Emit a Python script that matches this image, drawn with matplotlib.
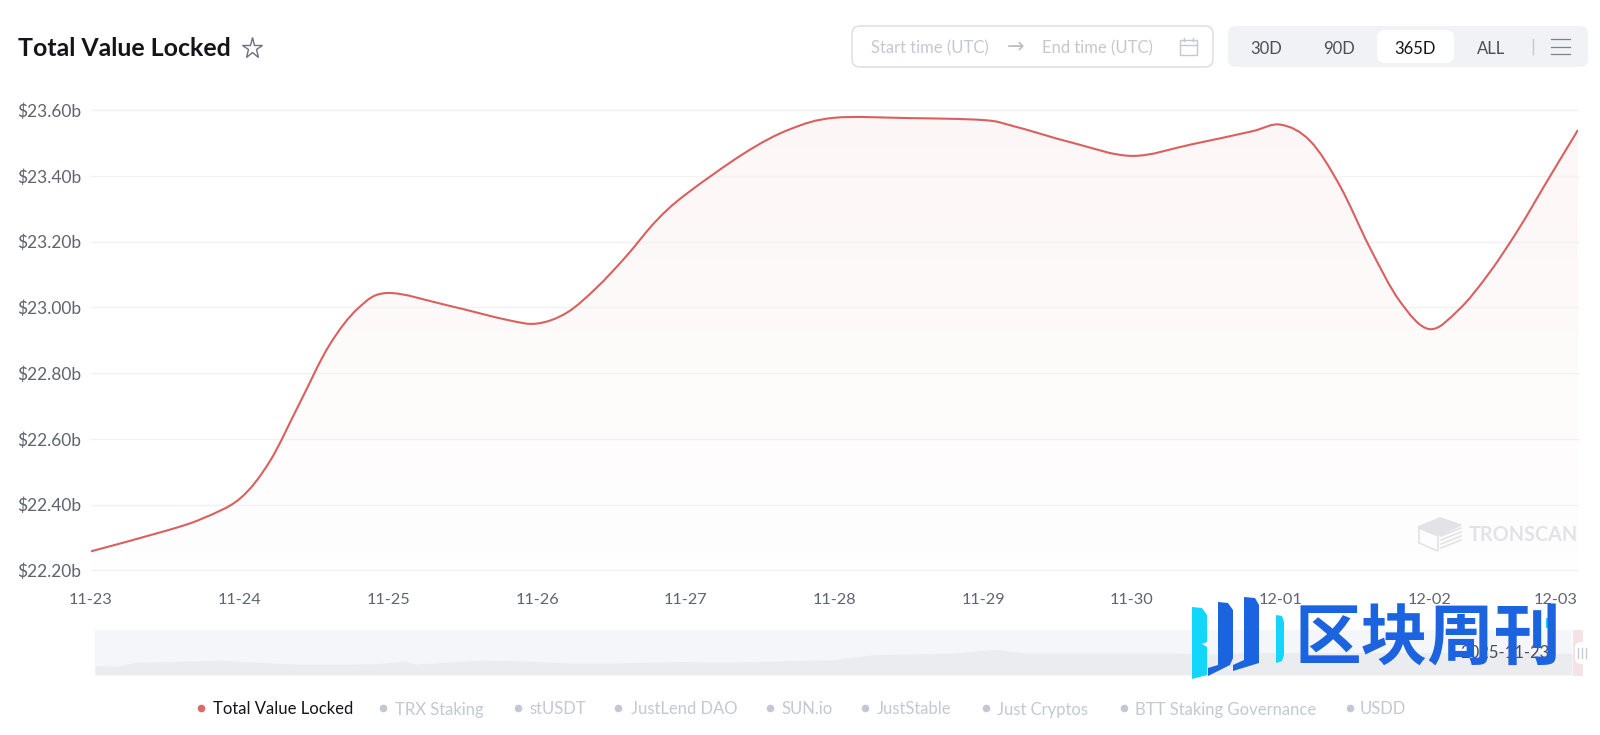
import matplotlib
matplotlib.use('Agg')
import matplotlib.pyplot as plt
import numpy as np
from matplotlib.patches import FancyBboxPatch, PathPatch, Polygon, Rectangle
from matplotlib.path import Path

plt.rcParams['font.family'] = ['Lato', 'Noto Sans CJK SC', 'DejaVu Sans']

# days since 11-23 and TVL in billions
days = [0, 0.5, 0.75, 1.0, 1.2, 1.4, 1.6, 1.8, 2.0,
        2.4, 2.8, 3.0, 3.2, 3.4, 3.6, 3.8, 4.0,
        4.4, 4.7, 5.0, 5.5, 6.0, 6.2, 6.6, 7.0,
        7.4, 7.8, 8.0, 8.2, 8.4, 8.6, 8.8, 9.0,
        9.2, 9.4, 9.6, 9.8, 10.0]
tvl = [22.258, 22.320, 22.358, 22.418, 22.530, 22.706, 22.883, 22.999, 23.044,
       23.006, 22.962, 22.951, 22.984, 23.060, 23.156, 23.263, 23.344,
       23.471, 23.542, 23.577, 23.576, 23.570, 23.552, 23.501, 23.461,
       23.496, 23.535, 23.556, 23.506, 23.369, 23.182, 23.020, 22.934,
       22.994, 23.103, 23.238, 23.390, 23.540]
x_labels = ['11-23', '11-24', '11-25', '11-26', '11-27', '11-28', '11-29', '11-30',
            '12-01', '12-02', '12-03']
y_ticks = [22.2, 22.4, 22.6, 22.8, 23.0, 23.2, 23.4, 23.6]

# overview strip under the chart: position in percent, height as a share of the strip
mini_pos = [0, 1.4, 2.7, 5.1, 8.5, 11.2, 13.9, 16.6, 19, 21, 21.7, 24, 26.1, 29.5, 31.8,
            35.5, 39.6, 42.5, 49.9, 52.7, 58.1, 60.9, 63, 66.3, 70.4, 72.9, 74.8, 78.2,
            90.6, 100]
mini_val = [.21, .19, .28, .30, .33, .28, .24, .24, .25, .31, .24, .29, .33, .31, .27,
            .27, .30, .285, .34, .45, .49, .57, .49, .49, .49, .49, .46, .50, .50, .48]

legend_names = ['Total Value Locked', 'TRX Staking', 'stUSDT', 'JustLend DAO', 'SUN.io',
                'JustStable', 'Just Cryptos', 'BTT Staking Governance', 'USDD']
legend_dot_x = [201, 383, 518, 618, 770, 865, 986, 1124, 1350]
legend_text_x = [213, 395, 529, 631, 781, 877, 997, 1135, 1360]

W, H = 1600, 735
fig = plt.figure(figsize=(16, 7.35), dpi=100, facecolor='white')


def px_axes(left, top, right, bottom, **kw):
    return fig.add_axes([left / W, 1 - bottom / H, (right - left) / W, (bottom - top) / H], **kw)


def smooth_verts(xs, ys):
    # curve through the read values, the same kind of smoothing the chart has
    p = np.column_stack([xs, ys])
    q = np.vstack([p[0], p, p[-1]])
    verts = [p[0]]
    for i in range(len(p) - 1):
        verts.append(q[i + 1] + (q[i + 2] - q[i]) / 6)
        verts.append(q[i + 2] - (q[i + 3] - q[i + 1]) / 6)
        verts.append(q[i + 2])
    return verts


# main chart
ax = px_axes(91, 110.2, 1578, 570.4)
verts = smooth_verts(days, tvl)
line_path = Path(verts, [Path.MOVETO] + [Path.CURVE4] * (len(verts) - 1))
area_path = Path(verts + [(days[-1], 22.2), (days[0], 22.2), verts[0]],
                 [Path.MOVETO] + [Path.CURVE4] * (len(verts) - 1) + [Path.LINETO, Path.LINETO, Path.CLOSEPOLY])
grad = np.zeros((256, 1, 4))
grad[:, :, 0] = 217 / 255
grad[:, :, 1] = 90 / 255
grad[:, :, 2] = 90 / 255
grad[:, 0, 3] = np.linspace(0.055, 0.006, 256)
im = ax.imshow(grad, extent=(0, 10, 22.2, 23.6), origin='upper', aspect='auto', zorder=1)
im.set_clip_path(area_path, transform=ax.transData)
for t in y_ticks:
    ax.axhline(t, color='#f2f2f4', lw=1, zorder=2, clip_on=False)
ax.add_patch(PathPatch(line_path, fc='none', ec='#d9605f', lw=1.5, zorder=3))
ax.set_xlim(0, 10)
ax.set_ylim(22.2, 23.6)
ax.set_xticks(range(11))
ax.set_xticklabels(x_labels)
ax.get_xticklabels()[-1].set_ha('right')
ax.set_yticks(y_ticks)
ax.set_yticklabels(['$%.2fb' % t for t in y_ticks])
ax.tick_params(length=0, labelcolor='#5f6470')
ax.tick_params(axis='x', pad=16.5, labelsize=11.7)
ax.tick_params(axis='y', pad=7, labelsize=12.5)
for s in ax.spines.values():
    s.set_visible(False)
ax.patch.set_alpha(0)

# overview strip
mini = px_axes(95, 630, 1572, 675)
mini.set_facecolor('#f5f6fa')
mini.fill_between(mini_pos, mini_val, 0, color='#ebecf0', lw=0)
mini.set_xlim(0, 100)
mini.set_ylim(0, 1)
mini.set_xticks([])
mini.set_yticks([])
for s in mini.spines.values():
    s.set_visible(False)

# everything else is page furniture, placed in pixels
ui = fig.add_axes([0, 0, 1, 1], zorder=5)
ui.set_xlim(0, W)
ui.set_ylim(H, 0)
ui.axis('off')

ui.text(18.5, 48, 'Total Value Locked', fontsize=17.9, fontweight='bold', color='#14151a', va='center')
ui.plot([252], [48], marker='*', ms=15.5, mfc='white', mec='#6d7280', mew=1)

ui.add_patch(FancyBboxPatch((852, 26), 361, 41, boxstyle='round,pad=0,rounding_size=8',
                            fc='white', ec='#d5d8e0', lw=0.9))
ui.text(930, 48.5, 'Start time (UTC)', fontsize=12, color='#c3c8d3', ha='center', va='center')
ui.text(1016, 47, '→', fontsize=15, color='#b9bec9', ha='center', va='center',
        family=['DejaVu Sans'])
ui.text(1097, 48.5, 'End time (UTC)', fontsize=12, color='#c3c8d3', ha='center', va='center')
ui.add_patch(Rectangle((1180, 40), 17, 15, fc='none', ec='#c3c8d3', lw=1))
ui.plot([1180, 1197], [45, 45], color='#c3c8d3', lw=1)
ui.plot([1184, 1184], [38, 41], color='#c3c8d3', lw=1)
ui.plot([1193, 1193], [38, 41], color='#c3c8d3', lw=1)

ui.add_patch(FancyBboxPatch((1228, 26), 360, 41, boxstyle='round,pad=0,rounding_size=8',
                            fc='#f1f2f6', ec='none'))
ui.add_patch(FancyBboxPatch((1377, 30), 77, 33, boxstyle='round,pad=0,rounding_size=8',
                            fc='white', ec='none'))
for label, cx, col in [('30D', 1266, '#4a4e57'), ('90D', 1339, '#4a4e57'),
                       ('365D', 1415, '#14151a'), ('ALL', 1491, '#4a4e57')]:
    ui.text(cx, 48.5, label, fontsize=12, color=col, ha='center', va='center')
ui.plot([1533, 1533], [39, 54], color='#c3c8d3', lw=1)
for yy in [39, 47, 54]:
    ui.plot([1551, 1570], [yy, yy], color='#7d818c', lw=0.9)

# watermark
for poly, col in [([(1418, 527), (1440, 518), (1461, 525), (1440, 535)], '#e2e3e7'),
                  ([(1419, 528), (1438, 536), (1438, 551), (1419, 543)], 'none')]:
    ui.add_patch(Polygon(poly, fc=col, ec='#e2e3e7', lw=1.2))
for k in range(4):
    ui.plot([1441, 1461], [536 + k * 4, 528 + k * 4], color='#e2e3e7', lw=1.2)
ui.text(1578, 535, 'TRONSCAN', fontsize=14.3, fontweight='bold', color='#e2e3e7', ha='right', va='center')

# strip handle and date
ui.add_patch(Rectangle((1573, 630), 10, 46, fc='#f4e2e4', ec='none'))
ui.add_patch(FancyBboxPatch((1575, 642), 14, 22, boxstyle='round,pad=0,rounding_size=6',
                            fc='white', ec='none'))
for xx in [1578, 1582, 1586]:
    ui.plot([xx, xx], [648, 658], color='#c9ccd4', lw=1)
ui.text(1505, 653, '2025-11-23', fontsize=12, color='#4a4e57', ha='center', va='center')

# legend
for i, name in enumerate(legend_names):
    on = i == 0
    ui.plot([legend_dot_x[i]], [708], marker='o', ms=5.5, mec='none',
            mfc='#d96b6b' if on else '#c3c8d3')
    ui.text(legend_text_x[i], 709.5, name, fontsize=11.95, va='center',
            color='#14151a' if on else '#c3c8d3')

# site logo stamped over the corner
cyan = '#12d6fb'
blue = '#1c63e0'
ui.add_patch(Polygon([(1192, 607), (1202, 608), (1207, 615), (1207, 642), (1202, 644), (1207, 647),
                      (1207, 675), (1192, 679)], fc=cyan, ec='none'))
ui.add_patch(Polygon([(1218, 602), (1228, 603), (1233, 610), (1233, 658), (1230, 665), (1208, 676),
                      (1208, 668), (1218, 665)], fc=blue, ec='none'))
ui.add_patch(Polygon([(1244, 597), (1255, 598), (1259, 605), (1259, 663), (1233, 671), (1233, 665),
                      (1244, 660)], fc=blue, ec='none'))
ui.add_patch(Polygon([(1276, 615), (1282, 616), (1284, 622), (1284, 655), (1282, 661), (1276, 663)],
                     fc=cyan, ec='none'))
ui.text(1428, 640, '区块周刊', fontsize=48, fontweight='bold', color=blue, ha='center', va='center',
        family=['Noto Sans CJK SC', 'DejaVu Sans'])
ui.add_patch(Rectangle((1546, 618), 8, 10, fc=cyan, ec='none'))

fig.savefig('out.png', dpi=100)
